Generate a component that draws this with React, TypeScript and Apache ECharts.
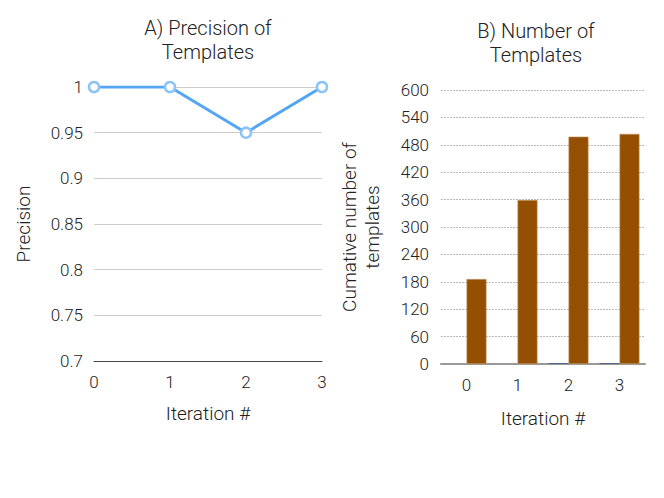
import React, { useEffect, useRef } from "react";
import * as echarts from "echarts";

const iterations = ["0", "1", "2", "3"];
const precision = [1, 1, 0.95, 1];
const templatesCumulative = [186, 359, 498, 504];
const templatesOther = [0, 0, 2, 2];

const FONT = "Roboto";

export default function App() {
  const ref = useRef<HTMLDivElement>(null);
  useEffect(() => {
    if (!ref.current) return;
    const chart = echarts.init(ref.current, null, { renderer: "svg" });
    const axisLabel = { color: "#222", fontSize: 17, fontFamily: FONT, fontWeight: 300 };
    const nameStyle = { color: "#222", fontSize: 19, fontFamily: FONT, fontWeight: 300 };
    chart.setOption({
      animation: false,
      backgroundColor: "#fff",
      title: [
        {
          text: "A) Precision of\nTemplates",
          left: 208,
          top: 16,
          padding: 0,
          textAlign: "center",
          textStyle: { ...nameStyle, fontSize: 20, lineHeight: 24 },
        },
        {
          text: "B) Number of\nTemplates",
          left: 536,
          top: 19,
          padding: 0,
          textAlign: "center",
          textStyle: { ...nameStyle, fontSize: 20, lineHeight: 24 },
        },
      ],
      grid: [
        { left: 94, right: 342, top: 87, bottom: 137 },
        { left: 441, right: 19, top: 90, bottom: 134 },
      ],
      xAxis: [
        {
          gridIndex: 0,
          type: "category",
          data: iterations,
          boundaryGap: false,
          axisLine: { lineStyle: { color: "#444", width: 1 } },
          axisTick: { show: false },
          axisLabel: { ...axisLabel, margin: 12 },
          name: "Iteration #",
          nameLocation: "middle",
          nameGap: 43,
          nameTextStyle: nameStyle,
        },
        {
          gridIndex: 1,
          type: "category",
          data: iterations,
          axisLine: { lineStyle: { color: "#999", width: 2 } },
          axisTick: { show: false },
          axisLabel: { ...axisLabel, margin: 12 },
          name: "Iteration #",
          nameLocation: "middle",
          nameGap: 45,
          nameTextStyle: nameStyle,
        },
      ],
      yAxis: [
        {
          gridIndex: 0,
          type: "value",
          min: 0.7,
          max: 1,
          interval: 0.05,
          axisLine: { show: false },
          axisTick: { show: false },
          axisLabel: { ...axisLabel, margin: 11 },
          splitLine: { lineStyle: { color: "#cccccc", width: 1 } },
          name: "Precision",
          nameLocation: "middle",
          nameGap: 61,
          nameTextStyle: nameStyle,
        },
        {
          gridIndex: 1,
          type: "value",
          min: 0,
          max: 600,
          interval: 60,
          axisLine: { show: false },
          axisTick: { show: false },
          axisLabel: { ...axisLabel, margin: 12 },
          splitLine: { lineStyle: { color: "#bbbbbb", width: 1, type: [2, 1] } },
          name: "Cumative number of\ntemplates",
          nameLocation: "middle",
          nameGap: 57,
          nameTextStyle: { ...nameStyle, lineHeight: 23, padding: [0, 0, 0, 0] },
        },
      ],
      series: [
        {
          type: "line",
          xAxisIndex: 0,
          yAxisIndex: 0,
          data: precision,
          lineStyle: { color: "#55a5f5", width: 3 },
          symbol: "circle",
          symbolSize: 10,
          itemStyle: { color: "#ffffff", borderColor: "#8cc4f8", borderWidth: 2.5 },
        },
        {
          type: "bar",
          xAxisIndex: 1,
          yAxisIndex: 1,
          data: templatesOther,
          barWidth: 20,
          barGap: "0%",
          itemStyle: { color: "#4a5f8f" },
        },
        {
          type: "bar",
          xAxisIndex: 1,
          yAxisIndex: 1,
          data: templatesCumulative,
          barWidth: 20,
          barGap: "0%",
          itemStyle: { color: "#954f00", borderColor: "#c8a070", borderWidth: 0.6 },
        },
      ],
    });
    return () => chart.dispose();
  }, []);
  return <div ref={ref} style={{ width: 664, height: 498, position: "absolute", left: 0, top: 0 }} />;
}
